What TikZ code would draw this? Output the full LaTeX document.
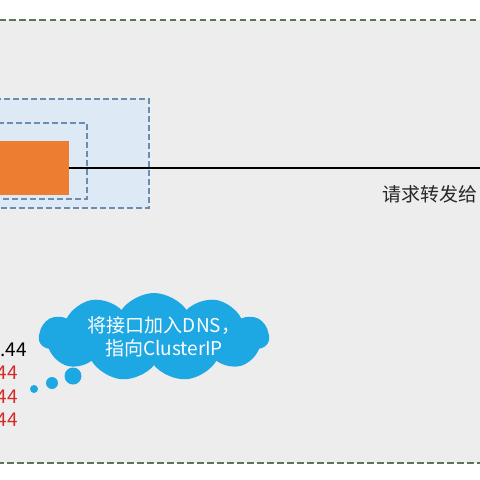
\documentclass[tikz,border=0pt]{standalone}
\usepackage{fontspec}
\setmainfont{Noto Sans CJK SC}
\usepackage{xcolor}
\definecolor{zoneGray}{HTML}{EDEDED}
\definecolor{zoneGreen}{HTML}{5E7458}
\definecolor{podBlue}{HTML}{DDEAF6}
\definecolor{podLine}{HTML}{6A8DB0}
\definecolor{svcOrange}{HTML}{ED7D31}
\definecolor{ipRed}{HTML}{D42A2A}
\definecolor{cloudBlue}{HTML}{1DA8E4}
\usetikzlibrary{shapes.symbols, positioning, calc}

\begin{document}
\begin{tikzpicture}[
    x=1pt, y=-1pt,
    box/.style={
        draw=podLine,
        line width=2.2pt,
        dash pattern=on 6pt off 3pt,
        fill=podBlue,
        rectangle,
        inner sep=0pt
    },
    svc/.style={
        fill=svcOrange,
        rectangle,
        inner sep=0pt
    },
    iptext/.style={
        anchor=base east,
        inner sep=0pt,
        font=\fontsize{19}{19}\selectfont
    },
    bubble/.style={
        cloud,
        cloud puffs=11,
        cloud puff arc=110,
        aspect=2.6,
        fill=cloudBlue,
        draw=none,
        minimum width=230pt,
        minimum height=88pt,
        inner sep=0pt
    },
    dot/.style={
        circle,
        fill=cloudBlue,
        inner sep=0pt
    }
]
\useasboundingbox (0,0) rectangle (480,480);
\fill[white] (0,0) rectangle (480,480);
\clip (0,0) rectangle (480,480);

% Node zone
\draw[zoneGreen, line width=2.4pt, dash pattern=on 6.5pt off 3.5pt, fill=zoneGray]
    (-20,20) rectangle (500,463);

% Pod and container
\node[box, minimum width=229pt, minimum height=109pt] (pod) at (34.5,153.5) {};
\node[box, minimum width=147pt, minimum height=76pt] (ctr) at (13.5,161) {};
\node[svc, minimum width=119pt, minimum height=54pt] (app) at (9.5,168) {};

% Forwarding
\coordinate (fwd) at (490,168);
\draw[line width=2pt] (app.east) -- (fwd);
\node[anchor=west, inner sep=0pt, font=\fontsize{19}{19}\selectfont, text=black!85]
    (fwdtext) at (382,194) {请求转发给};

% Endpoints
\node[iptext] (ip1) at (27,356) {.44};
\node[iptext, text=ipRed] (ip2) at (18,379) {44};
\node[iptext, text=ipRed] (ip3) at (18,403) {44};
\node[iptext, text=ipRed] (ip4) at (18,426) {44};

% Thought bubble
\node[bubble] (dns) at (154,337) {};
\node[align=center, text=white, font=\fontsize{19}{23}\selectfont]
    (dnstext) at ([xshift=10pt]dns.center) {将接口加入DNS，\\指向ClusterIP};
\node[dot, minimum size=17pt] (dot1) at (73,376) {};
\node[dot, minimum size=12pt] (dot2) at (52,383) {};
\node[dot, minimum size=8pt] (dot3) at (34,389) {};

\end{tikzpicture}
\end{document}
